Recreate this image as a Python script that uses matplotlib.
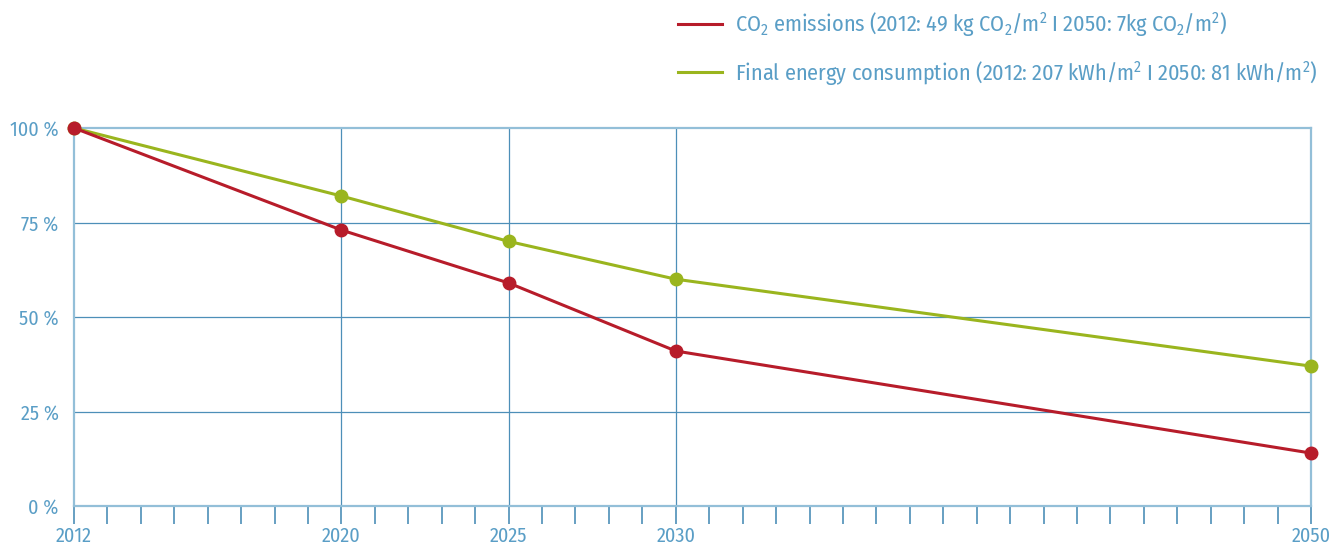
import matplotlib
matplotlib.use("Agg")
import matplotlib.pyplot as plt
from matplotlib.lines import Line2D

# ---- data ----
years = [2012, 2020, 2025, 2030, 2050]
co2 = [100, 73, 59, 41, 14]
energy = [100, 82, 70, 60, 37]
y_ticks = [0, 25, 50, 75, 100]
y_labels = ["0 %", "25 %", "50 %", "75 %", "100 %"]
labeled_years = [2012, 2020, 2025, 2030, 2050]
# axis tick slots (one tick per slot as in the original)
slots = list(range(2012, 2031)) + list(range(2032, 2051))
co2_label = "CO$_2$ emissions (2012: 49 kg CO$_2$/m$^2$ I 2050: 7kg CO$_2$/m$^2$)"
energy_label = "Final energy consumption (2012: 207 kWh/m$^2$ I 2050: 81 kWh/m$^2$)"

FONT = ["Fira Sans Condensed", "Asap Condensed", "DejaVu Sans"]
plt.rcParams["font.family"] = FONT
plt.rcParams["mathtext.fontset"] = "custom"
plt.rcParams["mathtext.rm"] = "Fira Sans Condensed"
plt.rcParams["mathtext.it"] = "Fira Sans Condensed"
plt.rcParams["mathtext.bf"] = "Fira Sans Condensed"

TXT = "#5a9ec6"
GRID = "#4d8fb8"
LIGHT = "#93bfd8"
RED = "#b71c2a"
GREEN = "#9ab51e"

fig = plt.figure(figsize=(13.41, 5.44), dpi=100)
ax = fig.add_axes([74/1341, 1-506/544, (1311-74)/1341, (506-128)/544])

xs = [slots.index(y) for y in years]

ax.plot(xs, energy, color=GREEN, lw=2.2, marker="o", ms=9, clip_on=False, zorder=5)
ax.plot(xs, co2, color=RED, lw=2.2, marker="o", ms=9, clip_on=False, zorder=6)

ax.set_xlim(0, len(slots) - 1)
ax.set_ylim(0, 100)

# grid lines
for v in y_ticks[1:4]:
    ax.axhline(v, color=GRID, lw=0.9, zorder=1)
for y in labeled_years[1:4]:
    ax.axvline(slots.index(y), color=GRID, lw=0.9, zorder=1)

for side in ["left", "right", "top", "bottom"]:
    ax.spines[side].set_color(LIGHT)
    ax.spines[side].set_linewidth(1.6)

ax.set_yticks(y_ticks)
ax.set_yticklabels(y_labels)
ax.tick_params(axis="y", length=0, pad=11, labelsize=14.5, labelcolor=TXT)

ax.set_xticks(range(len(slots)))
ax.set_xticklabels([str(s) if s in labeled_years else "" for s in slots])
ax.tick_params(axis="x", direction="out", length=13, width=1.2, color=GRID,
               pad=1.5, labelsize=14.5, labelcolor=TXT)

handles = [Line2D([], [], color=RED, lw=2.2), Line2D([], [], color=GREEN, lw=2.2)]
fig.legend(handles, [co2_label, energy_label], loc="upper left",
           bbox_to_anchor=(658/1341, 1 + 10/544), frameon=False,
           fontsize=16, labelcolor=TXT, handlelength=2.0, handletextpad=0.55,
           labelspacing=0.9)

fig.savefig("out.png", dpi=100)
